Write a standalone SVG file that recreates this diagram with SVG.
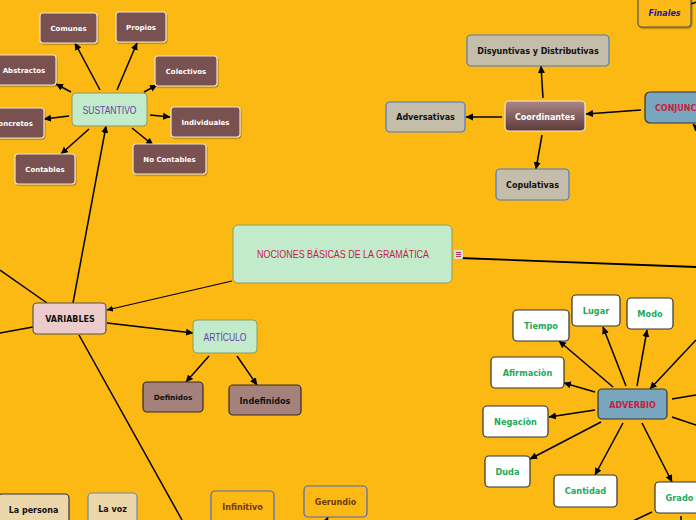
<svg xmlns="http://www.w3.org/2000/svg" width="696" height="520" viewBox="0 0 696 520">
<defs>
<marker id="ah" markerWidth="8" markerHeight="8" refX="7" refY="4" orient="auto" markerUnits="userSpaceOnUse">
<path d="M0,0.5 L7.5,4 L0,7.5 Z" fill="#000"/>
</marker>
<marker id="ahs" markerWidth="7" markerHeight="7" refX="6" refY="3.5" orient="auto" markerUnits="userSpaceOnUse">
<path d="M0,0.5 L6.5,3.5 L0,6.5 Z" fill="#000"/>
</marker>
<linearGradient id="coordGrad" x1="0" y1="0" x2="0" y2="1">
<stop offset="0" stop-color="#AC8888"/>
<stop offset="1" stop-color="#5C3A3A"/>
</linearGradient>
<filter id="sh" x="-10%" y="-10%" width="130%" height="140%">
<feDropShadow dx="0.8" dy="1.2" stdDeviation="0.6" flood-color="#000" flood-opacity="0.35"/>
</filter>
</defs>
<style>
.c{stroke:#000;stroke-width:1.5;fill:none}
.ca{stroke:#000;stroke-width:1.5;fill:none;marker-end:url(#ah)}
.t{font-family:"DejaVu Sans",Verdana,sans-serif;font-weight:bold;text-anchor:middle}
.tn{font-family:"Liberation Sans",Arial,sans-serif;text-anchor:middle}
.brown rect{fill:#7A5151;stroke:#EDE3D2;stroke-width:1.2;filter:url(#sh)}
.brown text{fill:#fff;font-size:7px}
.green rect{fill:#C2EBCB;stroke:#8E9A5E;stroke-width:1}
.gray rect{fill:#C3BDAA;stroke:#4A7AC0;stroke-width:1.2}
.gray text{fill:#111;font-size:8px}
.adv rect{fill:#fff;stroke:#333;stroke-width:1.2}
.adv text{fill:#1EA85A;font-size:8.2px}
.mauve rect{fill:#A5817C;stroke:#3A2A20;stroke-width:1.2}
.mauve text{fill:#111}
.beige rect{fill:#EBD6A9}
.beige text{fill:#111;font-size:8px}
.orng rect{fill:#FDB913;stroke:#4A6ABF;stroke-width:1.2}
.orng text{fill:#6B3A0A;font-size:8px}
</style>
<rect x="0" y="0" width="696" height="520" fill="#FDB913"/>

<g id="connectors">
<path class="ca" d="M73,303 L106,126"/>
<path class="ca" d="M100,90 L75,43"/>
<path class="ca" d="M117,90 L137,43"/>
<path class="ca" d="M71,92 L56,84"/>
<path class="ca" d="M144,92 L157,85"/>
<path class="ca" d="M69,116 L44,119"/>
<path class="ca" d="M150,115 L170,117"/>
<path class="ca" d="M89,129 L61,154"/>
<path class="ca" d="M132,128 L153,145"/>
<path d="M232,281 L107,310" stroke="#000" stroke-width="1.2" fill="none" marker-end="url(#ahs)"/>
<path d="M459,258 L696,267" stroke="#000" stroke-width="1.8" fill="none"/>
<path class="c" d="M47,303 L0,270"/>
<path class="c" d="M33,327 L0,333"/>
<path class="c" d="M79,335 L182,520"/>
<path class="ca" d="M107,323 L193,333"/>
<path class="ca" d="M209,356 L186,382"/>
<path class="ca" d="M237,356 L257,385"/>
<path class="ca" d="M543,98 L541,66"/>
<path class="ca" d="M502,117 L466,117"/>
<path class="ca" d="M542,135 L536,169"/>
<path class="ca" d="M641,110 L586,114"/>
<path class="ca" d="M704,136 L693,124"/>
<path class="c" d="M691,4 L700,1"/>
<path class="ca" d="M613,387 L559,341"/>
<path class="ca" d="M626,386 L603,327"/>
<path class="ca" d="M637,386 L647,330"/>
<path class="ca" d="M595,392 L564,383"/>
<path class="ca" d="M595,410 L549,417"/>
<path class="ca" d="M601,422 L530,459"/>
<path class="ca" d="M623,423 L595,475"/>
<path class="ca" d="M642,423 L672,482"/>
<path class="ca" d="M696,340 L650,389"/>
<path class="c" d="M672,399 L696,395"/>
<path class="c" d="M672,417 L696,425"/>
<path class="c" d="M652,512 L633,521"/>
<path class="c" d="M681,516 L681,522"/>
<path class="ca" d="M322,530 L328,517"/>
</g>

<g id="n-nociones">
<rect x="233" y="225" width="219" height="58" rx="5" fill="#C2EBCB" stroke="#8E9A5E" stroke-width="1"/>
<text class="tn" x="343" y="258" font-size="11" fill="#C8194B" textLength="172" lengthAdjust="spacingAndGlyphs">NOCIONES BÁSICAS DE LA GRAMÁTICA</text>
<rect x="454" y="250" width="9" height="9" rx="1" fill="#C2EBCB"/>
<path d="M456,252.5 H461 M456,254.5 H461 M456,256.5 H461" stroke="#C8194B" stroke-width="0.9"/>
</g>

<g id="n-sustantivo" class="green">
<rect x="72" y="93" width="75" height="33" rx="4"/>
<text class="tn" x="109.5" y="113.5" font-size="11" fill="#6A3DA8" textLength="54" lengthAdjust="spacingAndGlyphs">SUSTANTIVO</text>
</g>
<g id="n-comunes" class="brown"><rect x="40" y="13" width="57" height="30" rx="3"/><text class="t" x="68.5" y="31">Comunes</text></g>
<g id="n-propios" class="brown"><rect x="116" y="12" width="50" height="30" rx="3"/><text class="t" x="141" y="30">Propios</text></g>
<g id="n-abstractos" class="brown"><rect x="-8" y="55" width="64" height="30" rx="3"/><text class="t" x="24" y="73">Abstractos</text></g>
<g id="n-colectivos" class="brown"><rect x="155" y="56" width="62" height="30" rx="3"/><text class="t" x="186" y="74">Colectivos</text></g>
<g id="n-concretos" class="brown"><rect x="-20" y="108" width="64" height="30" rx="3"/><text class="t" x="13" y="126">Concretos</text></g>
<g id="n-individuales" class="brown"><rect x="171" y="107" width="69" height="30" rx="3"/><text class="t" x="205.5" y="125">Individuales</text></g>
<g id="n-contables" class="brown"><rect x="15" y="154" width="60" height="30" rx="3"/><text class="t" x="45" y="172">Contables</text></g>
<g id="n-nocontables" class="brown"><rect x="133" y="144" width="73" height="30" rx="3"/><text class="t" x="169.5" y="162">No Contables</text></g>

<g id="n-variables">
<rect x="33" y="303" width="73" height="31" rx="4" fill="#EBCBCB" stroke="#555" stroke-width="1.2"/>
<text class="t" x="70" y="322" font-size="8" fill="#111">VARIABLES</text>
</g>
<g id="n-articulo" class="green">
<rect x="193" y="320" width="64" height="33" rx="4"/>
<text class="tn" x="225" y="340.5" font-size="11" fill="#6A3DA8" textLength="43" lengthAdjust="spacingAndGlyphs">ARTÍCULO</text>
</g>
<g id="n-definidos" class="mauve"><rect x="143" y="382" width="60" height="30" rx="4"/><text class="t" x="173" y="400" font-size="7.3">Definidos</text></g>
<g id="n-indefinidos" class="mauve"><rect x="229" y="385" width="72" height="30" rx="4"/><text class="t" x="265" y="404" font-size="8.1">Indefinidos</text></g>

<g id="n-finales">
<rect x="638" y="-5" width="53" height="32" rx="4" fill="#FDB913" stroke="#555" stroke-width="1.2" filter="url(#sh)"/>
<text class="t" x="664.5" y="16" font-size="8" font-style="italic" fill="#1A1A9A">Finales</text>
</g>
<g id="n-disyuntivas" class="gray"><rect x="467" y="35" width="142" height="31" rx="4"/><text class="t" x="538" y="53.5">Disyuntivas y Distributivas</text></g>
<g id="n-adversativas" class="gray"><rect x="386" y="102" width="79" height="30" rx="4"/><text class="t" x="425.5" y="120">Adversativas</text></g>
<g id="n-copulativas" class="gray"><rect x="496" y="169" width="73" height="31" rx="4"/><text class="t" x="532.5" y="187.5">Copulativas</text></g>
<g id="n-coordinantes">
<rect x="505" y="101" width="80" height="30" rx="4" fill="url(#coordGrad)" stroke="#F3E9D2" stroke-width="1.2"/>
<text class="t" x="545" y="119.5" font-size="8" fill="#fff">Coordinantes</text>
</g>
<g id="n-conjunciones">
<rect x="645" y="92" width="95" height="31" rx="5" fill="#77A6BE" stroke="#333" stroke-width="1.2"/>
<text class="t" x="655" y="111" font-size="8" fill="#C8203C" style="text-anchor:start">CONJUNCIONES</text>
</g>

<g id="n-adverbio">
<rect x="598" y="389" width="69" height="30" rx="4" fill="#77A6BE" stroke="#333" stroke-width="1.2"/>
<text class="t" x="632.5" y="407.5" font-size="8" fill="#C8203C">ADVERBIO</text>
</g>
<g id="n-tiempo" class="adv"><rect x="513" y="310" width="56" height="31" rx="4"/><text class="t" x="541" y="328.5">Tiempo</text></g>
<g id="n-lugar" class="adv"><rect x="572" y="295" width="48" height="31" rx="4"/><text class="t" x="596" y="313.5">Lugar</text></g>
<g id="n-modo" class="adv"><rect x="627" y="298" width="46" height="31" rx="4"/><text class="t" x="650" y="316.5">Modo</text></g>
<g id="n-afirmacion" class="adv"><rect x="491" y="357" width="73" height="31" rx="4"/><text class="t" x="527.5" y="375.5">Afirmaciòn</text></g>
<g id="n-negacion" class="adv"><rect x="483" y="406" width="65" height="31" rx="4"/><text class="t" x="515.5" y="424.5">Negaciòn</text></g>
<g id="n-duda" class="adv"><rect x="485" y="456" width="45" height="31" rx="4"/><text class="t" x="507.5" y="474.5">Duda</text></g>
<g id="n-cantidad" class="adv"><rect x="554" y="475" width="63" height="32" rx="4"/><text class="t" x="585.5" y="493.5">Cantidad</text></g>
<g id="n-grado" class="adv"><rect x="655" y="482" width="50" height="31" rx="4"/><text class="t" x="679.5" y="500.5">Grado</text></g>

<g id="n-lapersona" class="beige"><rect x="-2" y="494" width="71" height="40" rx="4" stroke="#333" stroke-width="1.2"/><text class="t" x="33.5" y="513">La persona</text></g>
<g id="n-lavoz" class="beige"><rect x="88" y="493" width="49" height="40" rx="4" stroke="#6A8AB0" stroke-width="1.2"/><text class="t" x="112.5" y="512">La voz</text></g>
<g id="n-infinitivo" class="orng"><rect x="211" y="491" width="63" height="40" rx="4"/><text class="t" x="242.5" y="510">Infinitivo</text></g>
<g id="n-gerundio" class="orng"><rect x="304" y="486" width="63" height="31" rx="4"/><text class="t" x="335.5" y="504.5">Gerundio</text></g>
</svg>
